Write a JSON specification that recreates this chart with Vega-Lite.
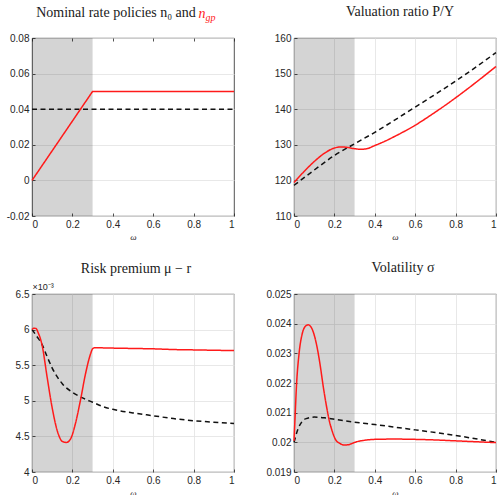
{
  "$schema": "https://vega.github.io/schema/vega-lite/v6.json",
  "background": "white",
  "padding": {"left": 5, "top": 4, "right": -3, "bottom": -3},
  "columns": 2,
  "spacing": {"column": 27, "row": 18},
  "config": {
    "view": {"stroke": "#262626", "strokeWidth": 0.8},
    "font": "Liberation Sans",
    "axis": {
      "labelFont": "Liberation Sans",
      "labelFontSize": 10,
      "labelColor": "#262626",
      "grid": true,
      "gridColor": "#e2e2e2",
      "gridWidth": 0.8,
      "domain": false,
      "ticks": true,
      "tickColor": "#262626",
      "tickSize": -3,
      "tickWidth": 0.8,
      "labelPadding": 6,
      "titleFont": "Liberation Serif",
      "titleFontStyle": "italic",
      "titleFontWeight": "normal",
      "titleFontSize": 9,
      "titleColor": "#262626"
    },
    "axisX": {"titlePadding": 3},
    "title": {
      "font": "Liberation Serif",
      "fontSize": 14,
      "fontWeight": "normal",
      "color": "#1a1a1a",
      "baseline": "alphabetic",
      "offset": 14
    }
  },
  "datasets": {
    "shade": [{"a": 0, "b": 0.3}],
    "nominal": [
      {"w": 0, "v": 0.04, "s": "n0"}, {"w": 1, "v": 0.04, "s": "n0"},
      {"w": 0, "v": 0, "s": "ngp"}, {"w": 0.3, "v": 0.05, "s": "ngp"}, {"w": 1, "v": 0.05, "s": "ngp"}
    ],
    "valuation": [
      {"w": 0, "v": 118.6, "s": "n0"}, {"w": 0.1, "v": 122.9, "s": "n0"}, {"w": 0.2, "v": 127.0, "s": "n0"},
      {"w": 0.3, "v": 130.3, "s": "n0"}, {"w": 0.4, "v": 133.5, "s": "n0"}, {"w": 0.5, "v": 137.0, "s": "n0"},
      {"w": 0.6, "v": 140.6, "s": "n0"}, {"w": 0.7, "v": 144.2, "s": "n0"}, {"w": 0.8, "v": 147.9, "s": "n0"},
      {"w": 0.9, "v": 151.8, "s": "n0"}, {"w": 1.0, "v": 155.9, "s": "n0"},
      {"w": 0, "v": 119.4, "s": "ngp"}, {"w": 0.05, "v": 122.5, "s": "ngp"}, {"w": 0.1, "v": 125.3, "s": "ngp"},
      {"w": 0.15, "v": 127.6, "s": "ngp"}, {"w": 0.2, "v": 129.1, "s": "ngp"}, {"w": 0.23, "v": 129.4, "s": "ngp"},
      {"w": 0.26, "v": 129.3, "s": "ngp"}, {"w": 0.3, "v": 128.9, "s": "ngp"}, {"w": 0.33, "v": 128.75, "s": "ngp"},
      {"w": 0.36, "v": 128.9, "s": "ngp"}, {"w": 0.4, "v": 129.8, "s": "ngp"}, {"w": 0.45, "v": 131.0, "s": "ngp"},
      {"w": 0.5, "v": 132.4, "s": "ngp"}, {"w": 0.6, "v": 135.5, "s": "ngp"}, {"w": 0.7, "v": 139.2, "s": "ngp"},
      {"w": 0.8, "v": 143.2, "s": "ngp"}, {"w": 0.9, "v": 147.5, "s": "ngp"}, {"w": 1.0, "v": 152.0, "s": "ngp"}
    ],
    "premium": [
      {"w": 0, "v": 0.00600, "s": "n0"}, {"w": 0.025, "v": 0.00590, "s": "n0"}, {"w": 0.05, "v": 0.00579, "s": "n0"},
      {"w": 0.075, "v": 0.00562, "s": "n0"}, {"w": 0.1, "v": 0.00546, "s": "n0"}, {"w": 0.15, "v": 0.00524, "s": "n0"},
      {"w": 0.2, "v": 0.00512, "s": "n0"}, {"w": 0.25, "v": 0.00504, "s": "n0"}, {"w": 0.3, "v": 0.00498, "s": "n0"},
      {"w": 0.35, "v": 0.00492, "s": "n0"}, {"w": 0.4, "v": 0.00488, "s": "n0"}, {"w": 0.5, "v": 0.00483, "s": "n0"},
      {"w": 0.6, "v": 0.00479, "s": "n0"}, {"w": 0.7, "v": 0.00475, "s": "n0"}, {"w": 0.8, "v": 0.00472, "s": "n0"},
      {"w": 0.9, "v": 0.00470, "s": "n0"}, {"w": 1.0, "v": 0.00468, "s": "n0"},
      {"w": 0, "v": 0.00600, "s": "ngp"}, {"w": 0.01, "v": 0.00602, "s": "ngp"}, {"w": 0.02, "v": 0.006015, "s": "ngp"},
      {"w": 0.03, "v": 0.00596, "s": "ngp"}, {"w": 0.05, "v": 0.00578, "s": "ngp"}, {"w": 0.075, "v": 0.00533, "s": "ngp"},
      {"w": 0.1, "v": 0.00490, "s": "ngp"}, {"w": 0.125, "v": 0.00458, "s": "ngp"}, {"w": 0.15, "v": 0.00443, "s": "ngp"},
      {"w": 0.17, "v": 0.004415, "s": "ngp"}, {"w": 0.19, "v": 0.00446, "s": "ngp"}, {"w": 0.215, "v": 0.00468, "s": "ngp"},
      {"w": 0.24, "v": 0.00501, "s": "ngp"}, {"w": 0.265, "v": 0.00538, "s": "ngp"}, {"w": 0.29, "v": 0.00566, "s": "ngp"},
      {"w": 0.3, "v": 0.00573, "s": "ngp"}, {"w": 0.31, "v": 0.005745, "s": "ngp"}, {"w": 0.4, "v": 0.00574, "s": "ngp"},
      {"w": 0.5, "v": 0.005735, "s": "ngp"}, {"w": 0.6, "v": 0.00573, "s": "ngp"}, {"w": 0.7, "v": 0.00572, "s": "ngp"},
      {"w": 0.8, "v": 0.005715, "s": "ngp"}, {"w": 0.9, "v": 0.00571, "s": "ngp"}, {"w": 1.0, "v": 0.005705, "s": "ngp"}
    ],
    "volatility": [
      {"w": 0, "v": 0.02000, "s": "n0"}, {"w": 0.02, "v": 0.02045, "s": "n0"}, {"w": 0.04, "v": 0.02070, "s": "n0"},
      {"w": 0.06, "v": 0.02080, "s": "n0"}, {"w": 0.1, "v": 0.02085, "s": "n0"}, {"w": 0.15, "v": 0.02083, "s": "n0"},
      {"w": 0.2, "v": 0.02078, "s": "n0"}, {"w": 0.3, "v": 0.02068, "s": "n0"}, {"w": 0.4, "v": 0.02060, "s": "n0"},
      {"w": 0.5, "v": 0.02051, "s": "n0"}, {"w": 0.6, "v": 0.02042, "s": "n0"}, {"w": 0.7, "v": 0.02033, "s": "n0"},
      {"w": 0.8, "v": 0.02023, "s": "n0"}, {"w": 0.9, "v": 0.02012, "s": "n0"}, {"w": 1.0, "v": 0.02000, "s": "n0"},
      {"w": 0, "v": 0.02005, "s": "ngp"}, {"w": 0.005, "v": 0.02080, "s": "ngp"}, {"w": 0.012, "v": 0.02187, "s": "ngp"},
      {"w": 0.025, "v": 0.02299, "s": "ngp"}, {"w": 0.04, "v": 0.02364, "s": "ngp"}, {"w": 0.055, "v": 0.02390, "s": "ngp"},
      {"w": 0.07, "v": 0.02396, "s": "ngp"}, {"w": 0.085, "v": 0.02388, "s": "ngp"}, {"w": 0.1, "v": 0.02362, "s": "ngp"},
      {"w": 0.115, "v": 0.02318, "s": "ngp"}, {"w": 0.13, "v": 0.02258, "s": "ngp"}, {"w": 0.145, "v": 0.02187, "s": "ngp"},
      {"w": 0.16, "v": 0.02125, "s": "ngp"}, {"w": 0.175, "v": 0.02072, "s": "ngp"}, {"w": 0.19, "v": 0.02036, "s": "ngp"},
      {"w": 0.205, "v": 0.02010, "s": "ngp"}, {"w": 0.225, "v": 0.01997, "s": "ngp"}, {"w": 0.25, "v": 0.01991, "s": "ngp"},
      {"w": 0.27, "v": 0.01992, "s": "ngp"}, {"w": 0.29, "v": 0.01997, "s": "ngp"}, {"w": 0.31, "v": 0.02002, "s": "ngp"},
      {"w": 0.35, "v": 0.02007, "s": "ngp"}, {"w": 0.4, "v": 0.02010, "s": "ngp"}, {"w": 0.5, "v": 0.02011, "s": "ngp"},
      {"w": 0.6, "v": 0.02010, "s": "ngp"}, {"w": 0.7, "v": 0.02008, "s": "ngp"}, {"w": 0.8, "v": 0.02005, "s": "ngp"},
      {"w": 0.9, "v": 0.02002, "s": "ngp"}, {"w": 1.0, "v": 0.01999, "s": "ngp"}
    ]
  },
  "concat": [
    {
      "width": 202, "height": 178,
      "title": {"text": "Nominal rate policies n₀ and", "anchor": "start", "dx": 30, "offset": -14},
      "layer": [
        {
          "data": {"name": "shade"},
          "mark": {"type": "rect", "color": "#000000", "opacity": 0.17},
          "encoding": {
            "x": {"field": "a", "type": "quantitative", "scale": {"domain": [0, 1]},
              "axis": {"orient": "top", "labels": false, "grid": false, "values": [0, 0.2, 0.4, 0.6, 0.8, 1],
                "title": "n", "titleColor": "#ff1a1a", "titleFontSize": 14, "titleAngle": 0,
                "titleX": 166, "titleY": -21, "titleAlign": "left", "titleBaseline": "alphabetic"}},
            "x2": {"field": "b"}
          }
        },
        {
          "data": {"name": "nominal"},
          "mark": {"type": "line", "strokeWidth": 1.5},
          "encoding": {
            "x": {"field": "w", "type": "quantitative",
              "axis": {"orient": "bottom", "values": [0, 0.2, 0.4, 0.6, 0.8, 1], "format": "~g", "title": "ω"}},
            "y": {"field": "v", "type": "quantitative", "scale": {"domain": [-0.02, 0.08]},
              "axis": {"values": [-0.02, 0, 0.02, 0.04, 0.06, 0.08],
                "labelExpr": "datum.value < 0 ? '-' + format(-datum.value, '~g') : format(datum.value, '~g')",
                "title": "gp", "titleColor": "#ff1a1a", "titleFontSize": 10, "titleAngle": 0,
                "titleX": 173, "titleY": -18, "titleAlign": "left", "titleBaseline": "alphabetic"}},
            "color": {"field": "s", "type": "nominal", "scale": {"domain": ["n0", "ngp"], "range": ["#111111", "#ff1a1a"]}, "legend": null},
            "strokeDash": {"field": "s", "type": "nominal", "scale": {"domain": ["n0", "ngp"], "range": [[5, 3.5], [1, 0]]}, "legend": null}
          }
        }
      ],
      "resolve": {"axis": {"x": "independent"}}
    },
    {
      "width": 202, "height": 178,
      "title": {"text": "Valuation ratio P/Y", "dx": 5},
      "layer": [
        {
          "data": {"name": "shade"},
          "mark": {"type": "rect", "color": "#000000", "opacity": 0.17},
          "encoding": {
            "x": {"field": "a", "type": "quantitative", "scale": {"domain": [0, 1]},
              "axis": {"values": [0, 0.2, 0.4, 0.6, 0.8, 1], "format": "~g", "title": "ω"}},
            "x2": {"field": "b"}
          }
        },
        {
          "data": {"name": "valuation"},
          "mark": {"type": "line", "strokeWidth": 1.5, "interpolate": "monotone"},
          "encoding": {
            "x": {"field": "w", "type": "quantitative",
              "axis": {"values": [0, 0.2, 0.4, 0.6, 0.8, 1], "format": "~g", "title": "ω"}},
            "y": {"field": "v", "type": "quantitative", "scale": {"domain": [110, 160]},
              "axis": {"values": [110, 120, 130, 140, 150, 160], "title": null}},
            "color": {"field": "s", "type": "nominal", "scale": {"domain": ["n0", "ngp"], "range": ["#111111", "#ff1a1a"]}, "legend": null},
            "strokeDash": {"field": "s", "type": "nominal", "scale": {"domain": ["n0", "ngp"], "range": [[5, 3.5], [1, 0]]}, "legend": null}
          }
        }
      ]
    },
    {
      "width": 202, "height": 178,
      "title": {"text": "Risk premium μ − r", "offset": 6, "dx": 3},
      "layer": [
        {
          "data": {"name": "shade"},
          "mark": {"type": "rect", "color": "#000000", "opacity": 0.17},
          "encoding": {
            "x": {"field": "a", "type": "quantitative", "scale": {"domain": [0, 1]},
              "axis": {"values": [0, 0.2, 0.4, 0.6, 0.8, 1], "format": "~g", "title": "ω"}},
            "x2": {"field": "b"}
          }
        },
        {
          "data": {"name": "premium"},
          "mark": {"type": "line", "strokeWidth": 1.5, "interpolate": "monotone"},
          "encoding": {
            "x": {"field": "w", "type": "quantitative",
              "axis": {"values": [0, 0.2, 0.4, 0.6, 0.8, 1], "format": "~g", "title": "ω"}},
            "y": {"field": "v", "type": "quantitative", "scale": {"domain": [0.004, 0.0065]},
              "axis": {"values": [0.004, 0.0045, 0.005, 0.0055, 0.006, 0.0065],
                "labelExpr": "format(datum.value * 1000, '.2~f')",
                "title": "×10⁻³", "titleFont": "Liberation Sans", "titleFontStyle": "normal", "titleFontSize": 9,
                "titleAngle": 0, "titleX": 0, "titleY": -5, "titleAlign": "left", "titleBaseline": "alphabetic"}},
            "color": {"field": "s", "type": "nominal", "scale": {"domain": ["n0", "ngp"], "range": ["#111111", "#ff1a1a"]}, "legend": null},
            "strokeDash": {"field": "s", "type": "nominal", "scale": {"domain": ["n0", "ngp"], "range": [[5, 3.5], [1, 0]]}, "legend": null}
          }
        }
      ]
    },
    {
      "width": 202, "height": 178,
      "title": {"text": "Volatility σ", "dx": 8},
      "layer": [
        {
          "data": {"name": "shade"},
          "mark": {"type": "rect", "color": "#000000", "opacity": 0.17},
          "encoding": {
            "x": {"field": "a", "type": "quantitative", "scale": {"domain": [0, 1]},
              "axis": {"values": [0, 0.2, 0.4, 0.6, 0.8, 1], "format": "~g", "title": "ω"}},
            "x2": {"field": "b"}
          }
        },
        {
          "data": {"name": "volatility"},
          "mark": {"type": "line", "strokeWidth": 1.5, "interpolate": "monotone"},
          "encoding": {
            "x": {"field": "w", "type": "quantitative",
              "axis": {"values": [0, 0.2, 0.4, 0.6, 0.8, 1], "format": "~g", "title": "ω"}},
            "y": {"field": "v", "type": "quantitative", "scale": {"domain": [0.019, 0.025]},
              "axis": {"values": [0.019, 0.02, 0.021, 0.022, 0.023, 0.024, 0.025], "format": "~g", "title": null}},
            "color": {"field": "s", "type": "nominal", "scale": {"domain": ["n0", "ngp"], "range": ["#111111", "#ff1a1a"]}, "legend": null},
            "strokeDash": {"field": "s", "type": "nominal", "scale": {"domain": ["n0", "ngp"], "range": [[5, 3.5], [1, 0]]}, "legend": null}
          }
        }
      ]
    }
  ]
}
